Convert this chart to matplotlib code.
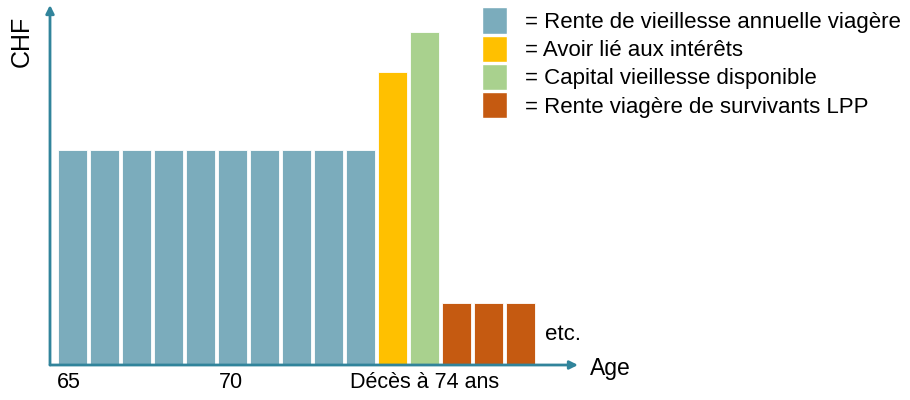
import matplotlib.pyplot as plt
from matplotlib.patches import Patch

plt.rcParams['font.family'] = ['Liberation Sans', 'DejaVu Sans']

# bar values (arbitrary CHF units)
rente_vieillesse = [215] * 10
avoir_interets = [293]
capital_dispo = [333]
rente_survivants = [62] * 3

legend_labels = ["= Rente de vieillesse annuelle viagère",
                 "= Avoir lié aux intérêts",
                 "= Capital vieillesse disponible",
                 "= Rente viagère de survivants LPP"]
colors = ["#7BACBC", "#FFC000", "#A9D18E", "#C55A11"]
axis_col = "#31849B"

fig = plt.figure(figsize=(9.1, 4.0), dpi=100)
ax = fig.add_axes([50 / 910, 35 / 400, 528 / 910, 360 / 400])

values = rente_vieillesse + avoir_interets + capital_dispo + rente_survivants
bar_colors = ([colors[0]] * len(rente_vieillesse) + [colors[1]] * len(avoir_interets)
              + [colors[2]] * len(capital_dispo) + [colors[3]] * len(rente_survivants))
x = list(range(len(values)))
ax.bar(x, values, width=0.9, color=bar_colors, edgecolor="white", linewidth=0.6)

ax.set_xlim(-0.703, 15.797)
ax.set_ylim(0, 360)
for s in ax.spines.values():
    s.set_visible(False)
ax.set_xticks([])
ax.set_yticks([])

# axes with arrows
ax.annotate("", xy=(1, 0), xytext=(0, 0), xycoords="axes fraction",
            arrowprops=dict(arrowstyle="-|>", color=axis_col, lw=2, mutation_scale=12,
                            shrinkA=0, shrinkB=0))
ax.annotate("", xy=(0, 1), xytext=(0, 0), xycoords="axes fraction",
            arrowprops=dict(arrowstyle="-|>", color=axis_col, lw=2, mutation_scale=12,
                            shrinkA=0, shrinkB=0))

# labels
ax.text(-0.1, -7, "65", ha="center", va="top", fontsize=15.5)
ax.text(4.95, -7, "70", ha="center", va="top", fontsize=15.5)
ax.text(11, -7, "Décès à 74 ans", ha="center", va="top", fontsize=15.5)
ax.text(14.77, 30, "etc.", ha="left", va="center", fontsize=16)
fig.text(590 / 910, 1 - 368 / 400, "Age", ha="left", va="center", fontsize=16.5)
fig.text(22 / 910, 1 - 41 / 400, "CHF", ha="center", va="center", rotation=90, fontsize=18)

handles = [Patch(facecolor=c, edgecolor="white") for c in colors]
fig.legend(handles, legend_labels, loc="upper left", bbox_to_anchor=(478 / 910, 1 - 3 / 400),
           frameon=False, fontsize=16, handlelength=1.125, handleheight=1.45,
           handletextpad=0.8, labelspacing=0.08, borderpad=0.2, borderaxespad=0)

fig.savefig("out.png", dpi=100)
